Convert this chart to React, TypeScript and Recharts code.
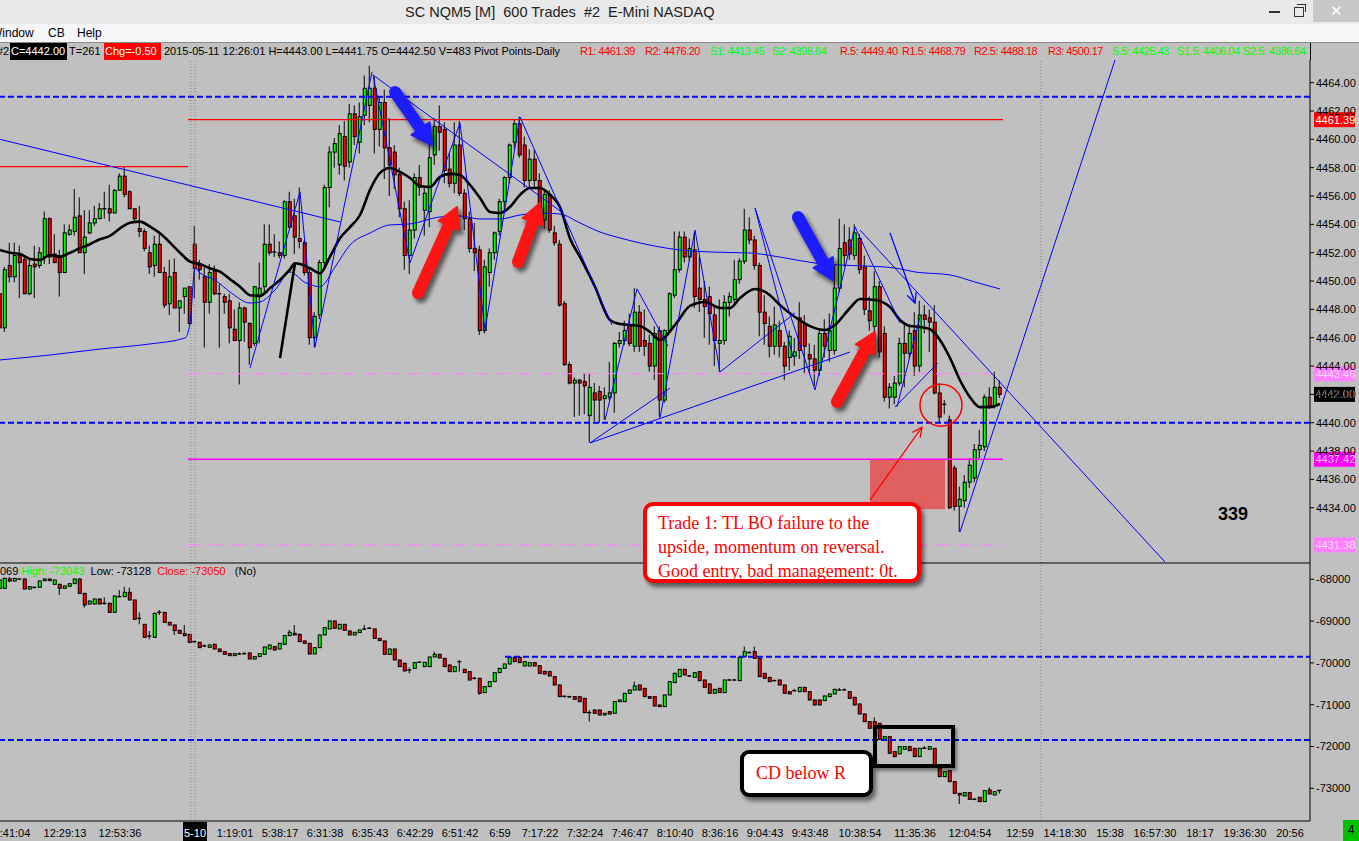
import React from "react";
import {
  ComposedChart,
  Bar,
  Line,
  XAxis,
  YAxis,
  ReferenceLine,
  ReferenceArea,
  ReferenceDot,
} from "recharts";

const FONT = '"Liberation Sans", Arial, sans-serif';
const SERIF = '"Liberation Serif", "Times New Roman", serif';

// 600-trade bars, [open, high, low, close]
const priceBars: [number, number, number, number][] = [
  [4449.1, 4449.6, 4446.4, 4446.7], [4446.7, 4451.0, 4446.4, 4450.8], [4451.1, 4452.7, 4449.9, 4450.3],
  [4450.3, 4452.7, 4449.9, 4451.8], [4451.8, 4452.5, 4448.8, 4451.3], [4451.5, 4451.7, 4449.1, 4449.1],
  [4449.1, 4451.5, 4449.0, 4451.1], [4451.2, 4452.5, 4448.8, 4451.0], [4451.1, 4452.4, 4450.9, 4452.0],
  [4451.7, 4454.9, 4451.2, 4454.4], [4454.4, 4454.5, 4451.2, 4451.7], [4451.9, 4453.3, 4451.3, 4451.3],
  [4451.7, 4452.2, 4448.9, 4450.6], [4450.6, 4454.0, 4450.6, 4453.4], [4453.3, 4454.0, 4453.2, 4453.6],
  [4453.5, 4456.5, 4453.2, 4454.5], [4454.6, 4455.9, 4452.0, 4452.0], [4452.0, 4455.0, 4450.5, 4453.1],
  [4453.4, 4455.0, 4453.3, 4454.1], [4454.1, 4455.3, 4453.9, 4454.4], [4454.4, 4455.5, 4454.4, 4455.1],
  [4455.0, 4456.3, 4454.4, 4455.1], [4455.1, 4456.8, 4454.2, 4454.8], [4454.8, 4456.5, 4454.8, 4456.4],
  [4456.4, 4457.6, 4456.4, 4457.4], [4457.4, 4458.1, 4455.9, 4456.1], [4456.3, 4456.4, 4455.1, 4455.1],
  [4455.1, 4455.1, 4454.2, 4454.4], [4453.7, 4455.3, 4453.1, 4453.5], [4453.5, 4453.7, 4452.1, 4452.3],
  [4452.0, 4452.5, 4450.5, 4451.0], [4451.1, 4453.2, 4450.3, 4452.6], [4452.6, 4453.3, 4450.6, 4450.6],
  [4450.6, 4451.0, 4448.1, 4448.3], [4448.4, 4451.5, 4447.6, 4450.3], [4450.6, 4451.6, 4448.1, 4448.1],
  [4448.1, 4448.6, 4446.4, 4448.6], [4448.9, 4449.5, 4447.7, 4449.5], [4449.6, 4449.6, 4446.9, 4447.0],
  [4452.6, 4453.9, 4448.8, 4450.9], [4451.1, 4451.5, 4450.1, 4450.8], [4450.3, 4451.0, 4445.3, 4448.5],
  [4448.5, 4451.2, 4447.7, 4450.6], [4450.7, 4451.1, 4449.0, 4449.1], [4449.1, 4449.8, 4445.3, 4449.0],
  [4448.9, 4449.1, 4447.7, 4448.5], [4448.6, 4449.1, 4445.6, 4446.7], [4446.6, 4448.0, 4445.8, 4445.8],
  [4445.8, 4448.5, 4442.7, 4448.1], [4448.1, 4448.2, 4445.7, 4447.1], [4447.0, 4447.1, 4444.1, 4445.3],
  [4445.6, 4449.6, 4445.4, 4449.6], [4448.9, 4451.3, 4445.6, 4449.5], [4449.6, 4454.0, 4449.1, 4452.6],
  [4452.6, 4454.0, 4451.8, 4452.0], [4452.0, 4453.3, 4451.7, 4452.05], [4452.0, 4452.8, 4451.6, 4451.8],
  [4451.8, 4455.7, 4451.6, 4455.6], [4455.6, 4456.3, 4453.8, 4453.8], [4454.6, 4455.8, 4451.9, 4453.1],
  [4453.0, 4456.6, 4452.3, 4452.8], [4452.7, 4452.9, 4450.4, 4450.6], [4450.6, 4451.0, 4445.5, 4446.0],
  [4446.0, 4447.8, 4445.3, 4447.5], [4447.6, 4451.5, 4447.3, 4451.3], [4451.3, 4456.8, 4451.0, 4456.6],
  [4456.6, 4459.5, 4455.2, 4459.1], [4459.1, 4460.1, 4458.0, 4459.7], [4458.2, 4461.0, 4457.5, 4460.4],
  [4460.2, 4461.3, 4457.1, 4458.1], [4458.4, 4462.5, 4458.0, 4461.8], [4461.8, 4462.4, 4459.6, 4460.2],
  [4459.8, 4462.6, 4459.0, 4461.6], [4461.7, 4464.5, 4461.0, 4463.6], [4462.4, 4465.2, 4461.2, 4463.6],
  [4463.6, 4464.4, 4459.0, 4460.7], [4460.7, 4463.0, 4459.5, 4462.6], [4462.6, 4463.5, 4457.2, 4459.4],
  [4459.4, 4461.5, 4456.0, 4458.2], [4459.1, 4459.6, 4456.5, 4457.5], [4457.5, 4458.0, 4454.5, 4455.1],
  [4455.1, 4455.6, 4450.8, 4451.8], [4451.8, 4455.7, 4450.5, 4453.6], [4453.6, 4457.6, 4453.0, 4457.3],
  [4457.3, 4458.2, 4456.0, 4456.6], [4455.0, 4456.6, 4453.2, 4456.2], [4454.9, 4460.2, 4453.8, 4458.7],
  [4458.9, 4461.5, 4458.2, 4460.9], [4460.9, 4462.4, 4459.2, 4460.5], [4460.7, 4461.2, 4456.9, 4457.8],
  [4457.9, 4459.0, 4456.6, 4456.9], [4456.9, 4461.2, 4456.2, 4459.6], [4459.6, 4461.3, 4456.0, 4456.2],
  [4456.2, 4456.5, 4453.6, 4454.4], [4454.4, 4454.9, 4452.0, 4452.3], [4452.3, 4454.1, 4450.7, 4452.0],
  [4452.2, 4452.5, 4446.2, 4446.5], [4446.5, 4451.5, 4446.3, 4451.0], [4450.6, 4452.3, 4449.6, 4452.0],
  [4452.0, 4453.5, 4451.5, 4453.4], [4453.5, 4455.8, 4453.2, 4455.6], [4455.6, 4457.4, 4455.0, 4457.3],
  [4457.3, 4459.7, 4456.9, 4459.6], [4459.8, 4461.4, 4459.3, 4461.1], [4461.1, 4461.6, 4458.7, 4458.9],
  [4459.6, 4460.2, 4456.6, 4457.1], [4457.1, 4459.3, 4456.5, 4458.6], [4458.6, 4459.3, 4456.5, 4457.1],
  [4457.1, 4457.6, 4454.0, 4454.3], [4454.3, 4456.5, 4453.7, 4456.1], [4456.1, 4456.4, 4453.4, 4453.6],
  [4453.4, 4453.9, 4452.5, 4452.7], [4452.6, 4452.9, 4448.2, 4448.3], [4448.4, 4448.6, 4444.0, 4444.1],
  [4444.1, 4444.3, 4442.7, 4442.8], [4442.8, 4443.2, 4440.4, 4443.0], [4443.0, 4443.1, 4440.5, 4442.8],
  [4442.9, 4443.5, 4440.6, 4442.6], [4440.5, 4443.5, 4438.6, 4442.5], [4442.1, 4442.8, 4440.1, 4441.6],
  [4442.2, 4442.6, 4440.0, 4441.6], [4441.7, 4442.5, 4440.2, 4441.9], [4441.8, 4444.3, 4441.6, 4442.1],
  [4442.1, 4445.7, 4440.7, 4445.6], [4445.6, 4446.4, 4445.3, 4445.8], [4445.8, 4447.2, 4445.5, 4446.5],
  [4446.9, 4447.7, 4445.4, 4445.6], [4445.4, 4449.5, 4445.0, 4447.8], [4447.8, 4448.3, 4445.0, 4445.4],
  [4445.8, 4448.0, 4444.7, 4445.4], [4445.6, 4446.2, 4443.6, 4444.0], [4444.0, 4446.8, 4443.0, 4446.3],
  [4446.5, 4446.8, 4440.4, 4441.6], [4441.6, 4446.6, 4441.4, 4446.5], [4446.5, 4449.2, 4446.3, 4449.1],
  [4449.0, 4453.5, 4448.8, 4450.8], [4450.8, 4453.5, 4450.6, 4453.1], [4453.1, 4453.5, 4451.3, 4451.7],
  [4451.7, 4453.0, 4451.4, 4452.3], [4452.2, 4453.4, 4448.1, 4448.9], [4449.5, 4451.7, 4447.8, 4448.7],
  [4448.7, 4450.0, 4446.0, 4448.2], [4448.9, 4449.6, 4445.5, 4447.7], [4447.6, 4448.2, 4444.0, 4445.8],
  [4445.6, 4448.7, 4443.6, 4445.8], [4445.8, 4449.0, 4445.5, 4448.5], [4448.5, 4449.2, 4447.5, 4448.9],
  [4448.7, 4451.5, 4448.4, 4450.1], [4450.1, 4451.6, 4449.8, 4451.4], [4451.4, 4455.1, 4451.2, 4453.6],
  [4453.6, 4454.5, 4452.6, 4452.9], [4452.9, 4453.2, 4450.8, 4451.1], [4451.1, 4451.3, 4446.1, 4447.8],
  [4447.8, 4449.0, 4445.5, 4447.0], [4446.8, 4447.5, 4444.6, 4445.4], [4445.4, 4448.2, 4444.8, 4446.9],
  [4446.5, 4447.2, 4444.6, 4445.4], [4445.4, 4445.7, 4443.0, 4444.0], [4444.6, 4446.5, 4443.7, 4446.1],
  [4444.7, 4446.0, 4444.0, 4445.0], [4447.4, 4448.5, 4444.5, 4445.1], [4446.9, 4447.6, 4443.5, 4445.4],
  [4444.8, 4445.6, 4443.5, 4444.5], [4444.5, 4445.5, 4442.6, 4443.7], [4443.7, 4446.6, 4443.3, 4446.3],
  [4446.3, 4447.3, 4444.6, 4445.4], [4445.1, 4447.7, 4444.3, 4446.5], [4445.1, 4451.1, 4444.8, 4449.5],
  [4449.5, 4454.4, 4449.2, 4452.3], [4452.7, 4454.0, 4451.0, 4451.8], [4452.9, 4453.8, 4451.5, 4451.9],
  [4451.8, 4454.0, 4451.5, 4453.4], [4453.0, 4453.3, 4450.5, 4450.8], [4451.0, 4451.8, 4447.6, 4448.0],
  [4447.9, 4448.9, 4446.5, 4447.2], [4446.8, 4450.7, 4446.3, 4449.6], [4449.6, 4450.0, 4444.6, 4445.0],
  [4446.3, 4446.8, 4441.5, 4441.8], [4441.8, 4442.8, 4441.0, 4442.5], [4441.8, 4443.3, 4441.3, 4442.8],
  [4442.8, 4446.0, 4442.6, 4445.6], [4445.6, 4447.0, 4442.5, 4444.9], [4444.9, 4446.9, 4444.5, 4446.3],
  [4446.5, 4447.8, 4443.3, 4444.0], [4444.0, 4448.6, 4443.6, 4447.6], [4447.6, 4448.3, 4446.3, 4447.3],
  [4447.4, 4448.0, 4445.0, 4447.1], [4447.1, 4448.3, 4442.0, 4442.1], [4442.1, 4442.8, 4440.0, 4440.4],
  [4441.2, 4441.6, 4440.6, 4441.3], [4440.2, 4440.5, 4433.9, 4434.0], [4436.8, 4437.0, 4433.8, 4434.1],
  [4434.1, 4435.5, 4432.3, 4434.6], [4434.5, 4436.3, 4434.0, 4435.8], [4435.8, 4437.5, 4435.4, 4437.0],
  [4436.1, 4438.5, 4435.8, 4438.1], [4438.1, 4439.5, 4437.5, 4438.4], [4438.3, 4442.0, 4438.0, 4441.8],
  [4441.8, 4442.5, 4441.0, 4441.2], [4441.2, 4443.6, 4441.0, 4442.5], [4442.5, 4443.0, 4441.75, 4442.0],
];

// cumulative delta bars, [open, high, low, close]
const deltaBars: [number, number, number, number][] = [
  [-68216, -67990, -68240, -68017], [-68216, -67960, -68230, -67977], [-67990, -67950, -68070, -68040],
  [-68040, -67960, -68060, -67980], [-67993, -67985, -68010, -67995], [-67993, -67985, -68240, -68232],
  [-68232, -68170, -68240, -68176], [-68200, -68170, -68215, -68195], [-68192, -68030, -68200, -68041],
  [-68033, -67980, -68040, -67993], [-67993, -67985, -68040, -68033], [-68120, -68010, -68125, -68017],
  [-68120, -68110, -68375, -68216], [-68216, -68150, -68220, -68160], [-68168, -68095, -68172, -68104],
  [-68104, -67985, -68110, -67993], [-67993, -67985, -68340, -68336], [-68336, -68330, -68678, -68615],
  [-68591, -68510, -68600, -68519], [-68591, -68460, -68600, -68471], [-68471, -68460, -68595, -68591],
  [-68575, -68431, -68615, -68580], [-68575, -68560, -68800, -68790], [-68790, -68390, -68795, -68399],
  [-68415, -68256, -68430, -68420], [-68415, -68176, -68420, -68312], [-68312, -68200, -68500, -68495],
  [-68495, -68490, -68960, -68957], [-68933, -68790, -69077, -68935], [-69077, -69070, -69400, -69388],
  [-69356, -69236, -69435, -69360], [-69388, -68800, -69395, -68814], [-68790, -68734, -68854, -68795],
  [-68790, -68780, -69040, -69029], [-69029, -69020, -69100, -69093], [-69093, -69085, -69332, -69228],
  [-69220, -69210, -69300, -69292], [-69300, -69093, -69360, -69348], [-69316, -69300, -69520, -69507],
  [-69491, -69470, -69510, -69495], [-69507, -69500, -69640, -69635], [-69595, -69560, -69620, -69600],
  [-69627, -69560, -69635, -69571], [-69555, -69540, -69670, -69667], [-69667, -69660, -69735, -69730],
  [-69730, -69720, -69800, -69794], [-69778, -69770, -69830, -69826], [-69826, -69770, -69830, -69778],
  [-69786, -69750, -69810, -69790], [-69778, -69740, -69800, -69780], [-69762, -69750, -69910, -69906],
  [-69906, -69845, -69915, -69850], [-69850, -69770, -69855, -69778], [-69794, -69610, -69800, -69619],
  [-69667, -69560, -69670, -69571], [-69611, -69600, -69700, -69691], [-69667, -69520, -69672, -69531],
  [-69555, -69340, -69560, -69348], [-69348, -69212, -69350, -69268], [-69292, -69093, -69335, -69332],
  [-69316, -69300, -69500, -69491], [-69475, -69460, -69540, -69531], [-69531, -69525, -69800, -69786],
  [-69786, -69630, -69790, -69635], [-69635, -69325, -69640, -69332], [-69332, -69150, -69335, -69156],
  [-69188, -68990, -69190, -68997], [-68997, -68990, -69175, -69172], [-69188, -69070, -69190, -69077],
  [-69077, -69070, -69225, -69220], [-69236, -69230, -69335, -69332], [-69332, -69265, -69335, -69268],
  [-69276, -69210, -69280, -69212], [-69188, -69093, -69210, -69190], [-69172, -69140, -69190, -69175],
  [-69188, -69180, -69415, -69412], [-69412, -69405, -69470, -69467], [-69475, -69470, -69795, -69794],
  [-69794, -69660, -69800, -69667], [-69667, -69660, -69935, -69930], [-69930, -69925, -70092, -70089],
  [-70009, -70000, -70200, -70193], [-70169, -70113, -70249, -70170], [-70129, -69990, -70135, -69993],
  [-69985, -69960, -70000, -69990], [-70089, -69980, -70095, -69985], [-70089, -69855, -70095, -69858],
  [-69858, -69730, -69860, -69794], [-69794, -69785, -69885, -69882], [-69890, -69885, -70095, -70089],
  [-70050, -70040, -70220, -70209], [-70209, -70080, -70215, -70090], [-69975, -69930, -70209, -69970],
  [-70153, -70145, -70240, -70233], [-70209, -70200, -70420, -70409], [-70369, -70330, -70400, -70372],
  [-70369, -70360, -70760, -70727], [-70711, -70560, -70720, -70568], [-70568, -70440, -70575, -70448],
  [-70448, -70220, -70455, -70233], [-70233, -70120, -70240, -70130], [-70130, -70020, -70135, -70026],
  [-70026, -69860, -70030, -69866], [-69866, -69855, -69980, -69970], [-69866, -69855, -70000, -69994],
  [-70074, -69960, -70080, -69970], [-70074, -69990, -70080, -69994], [-69994, -69985, -70080, -70074],
  [-70066, -70060, -70255, -70249], [-70201, -70195, -70270, -70265], [-70209, -70200, -70320, -70313],
  [-70329, -70320, -70535, -70528], [-70528, -70520, -70815, -70807], [-70800, -70780, -70830, -70807],
  [-70807, -70790, -70840, -70812], [-70807, -70800, -70875, -70871], [-70807, -70800, -70935, -70927],
  [-70847, -70840, -71200, -71190], [-71190, -71126, -71405, -71195], [-71126, -71120, -71210, -71206],
  [-71126, -71120, -71250, -71246], [-71246, -71195, -71255, -71206], [-71166, -71160, -71225, -71222],
  [-71206, -70920, -71210, -70927], [-70927, -70880, -70930, -70887], [-70927, -70720, -70930, -70727],
  [-70727, -70640, -70730, -70648], [-70648, -70448, -70650, -70552], [-70528, -70520, -70655, -70648],
  [-70608, -70600, -70810, -70807], [-70807, -70800, -70850, -70847], [-70807, -70800, -71040, -71030],
  [-71006, -71000, -71050, -71046], [-71046, -70760, -71050, -70767], [-70767, -70440, -70770, -70448],
  [-70472, -70240, -70475, -70249], [-70329, -70145, -70335, -70153], [-70153, -70145, -70295, -70289],
  [-70313, -70290, -70330, -70315], [-70345, -70230, -70350, -70233], [-70209, -70200, -70435, -70425],
  [-70409, -70400, -70590, -70584], [-70504, -70495, -70735, -70727], [-70727, -70625, -70730, -70632],
  [-70608, -70600, -70720, -70711], [-70711, -70400, -70715, -70409], [-70409, -70380, -70420, -70412],
  [-70409, -70385, -70420, -70410], [-70425, -69860, -70430, -69866], [-69850, -69611, -69855, -69731],
  [-69755, -69720, -69770, -69758], [-69731, -69611, -69900, -69890], [-69890, -69880, -70340, -70329],
  [-70249, -70240, -70375, -70369], [-70345, -70340, -70455, -70448], [-70424, -70400, -70440, -70426],
  [-70409, -70400, -70535, -70528], [-70528, -70520, -70735, -70727], [-70688, -70680, -70745, -70743],
  [-70664, -70620, -70680, -70666], [-70688, -70580, -70695, -70584], [-70584, -70575, -70695, -70688],
  [-70688, -70680, -70895, -70887], [-70887, -70880, -71010, -71006], [-70887, -70880, -71010, -71006],
  [-70903, -70780, -70910, -70791], [-70807, -70735, -70810, -70743], [-70743, -70620, -70745, -70632],
  [-70648, -70600, -70660, -70650], [-70648, -70610, -70660, -70646], [-70688, -70680, -70850, -70847],
  [-70823, -70815, -71010, -71006], [-70982, -70975, -71230, -71222], [-71222, -71215, -71410, -71405],
  [-71405, -71400, -71570, -71565], [-71405, -71302, -71570, -71565], [-71445, -71440, -71840, -71828],
  [-71828, -71760, -71835, -71764], [-71764, -71755, -72170, -72162], [-72123, -72115, -72250, -72242],
  [-72178, -72000, -72185, -72003], [-72067, -71995, -72070, -72003], [-72003, -71995, -72105, -72099],
  [-72043, -72035, -72250, -72242], [-72242, -72035, -72250, -72043], [-72043, -71990, -72060, -72045],
  [-72067, -71995, -72070, -72003], [-72043, -72035, -72450, -72442], [-72521, -72515, -72730, -72721],
  [-72721, -72595, -72725, -72601], [-72577, -72570, -72850, -72840], [-72840, -72835, -73130, -73120],
  [-73120, -73110, -73375, -73160], [-73183, -73090, -73190, -73104], [-73104, -73095, -73270, -73263],
  [-73263, -73240, -73285, -73265], [-73215, -73205, -73325, -73319], [-73319, -73050, -73325, -73056],
  [-73040, -72975, -73140, -73136], [-73160, -73075, -73165, -73080], [-73069, -73043, -73128, -73050],
];

// moving averages, [bar, value]
const fastAverage: [number, number][] = [
  [0, 4452.19], [2, 4452.0], [4, 4451.9], [6, 4451.56], [8, 4451.49], [10, 4451.84], [12, 4451.72],
  [14, 4452.0], [16, 4452.31], [18, 4452.6], [20, 4452.95], [22, 4453.18], [24, 4453.72], [26, 4454.12],
  [28, 4454.19], [30, 4453.84], [32, 4453.37], [34, 4452.71], [36, 4452.0], [38, 4451.37], [40, 4451.2],
  [42, 4450.9], [44, 4450.66], [46, 4450.13], [48, 4449.6], [50, 4449.0], [52, 4448.95], [54, 4449.49],
  [56, 4450.08], [58, 4450.83], [59, 4451.25], [60, 4451.2], [62, 4450.9], [64, 4450.55], [66, 4451.72],
  [68, 4453.02], [70, 4453.8], [72, 4454.66], [74, 4456.43], [76, 4457.63], [78, 4457.98], [80, 4457.7],
  [82, 4457.27], [84, 4456.71], [86, 4456.64], [88, 4457.35], [90, 4457.56], [92, 4457.49], [94, 4456.78],
  [96, 4455.86], [98, 4454.87], [100, 4454.8], [102, 4455.23], [104, 4456.08], [106, 4456.57],
  [108, 4456.57], [110, 4456.08], [112, 4455.23], [114, 4453.0], [116, 4451.7], [119, 4449.6],
  [122, 4447.25], [124, 4446.97], [128, 4446.83], [130, 4446.4], [132, 4445.84], [135, 4446.9],
  [138, 4448.24], [141, 4448.52], [144, 4448.1], [146, 4448.1], [148, 4448.8], [151, 4449.44],
  [154, 4449.0], [156, 4448.3], [159, 4447.46], [162, 4446.82], [165, 4446.54], [167, 4446.9],
  [170, 4448.1], [172, 4448.73], [175, 4448.66], [178, 4448.17], [180, 4447.25], [182, 4446.83],
  [184, 4446.76], [186, 4446.6], [188, 4445.84], [190, 4444.57], [192, 4443.0], [194, 4441.8],
  [196, 4441.1], [198, 4441.1], [200, 4441.33],
];

const slowAverage: [number, number][] = [
  [0, 4444.43], [10, 4444.78], [20, 4445.2], [30, 4445.56], [37, 4445.98], [38, 4447.0], [39, 4450.9],
  [40, 4450.57], [43, 4450.07], [46, 4449.23], [50, 4448.45], [52, 4448.52], [55, 4449.37], [58, 4450.64],
  [61, 4449.9], [64, 4449.6], [67, 4450.99], [70, 4452.54], [74, 4453.39], [78, 4453.96], [82, 4454.03],
  [88, 4454.52], [92, 4454.59], [96, 4454.38], [100, 4454.38], [104, 4454.66], [108, 4454.8],
  [112, 4454.73], [116, 4454.1], [120, 4453.46], [124, 4453.04], [128, 4452.69], [132, 4452.4],
  [136, 4452.19], [142, 4452.05], [150, 4451.98], [157, 4451.63], [163, 4451.27], [168, 4451.13],
  [173, 4451.06], [179, 4450.92], [183, 4450.64], [190, 4450.43], [195, 4449.93], [200, 4449.44],
];

// hand drawn trend lines, [[bar, price], [bar, price]]
const trendLines: [number, number][][] = [
  [[0, 4460.0], [68, 4454.17]], [[50, 4443.87], [60, 4456.29]], [[60, 4456.29], [63, 4445.35]],
  [[63, 4445.35], [74.4, 4464.76]], [[74.6, 4464.54], [82, 4451.28]], [[82, 4451.28], [92, 4461.16]],
  [[92, 4461.16], [97, 4446.55]], [[97, 4446.55], [104, 4461.58]], [[104, 4461.58], [122.4, 4446.9]],
  [[74.6, 4464.54], [112.6, 4454.8]], [[118, 4438.57], [134, 4442.45]], [[118, 4438.57], [170, 4444.99]],
  [[121, 4440.2], [127.4, 4449.45]], [[127.4, 4449.45], [133.6, 4445.4]], [[132, 4440.34], [139, 4453.6]],
  [[139, 4453.6], [144, 4443.58]], [[144, 4443.58], [159, 4447.75]], [[151, 4455.16], [163, 4442.31]],
  [[151, 4455.16], [158.6, 4444.64]], [[163, 4442.31], [171, 4453.82]], [[171, 4453.82], [180, 4447.04]],
  [[179.4, 4441.11], [184, 4447.47]], [[179, 4441.11], [187.6, 4444.22]], [[172, 4453.6], [233, 4430.17]],
  [[192, 4432.29], [223, 4465.6]],
];

const arrows = [
  { from: [79, 4463.34], to: [86.4, 4459.6], color: "#1c1cff", bold: true },
  { from: [83.6, 4449.15], to: [91.4, 4455.22], color: "#ff1414", bold: true },
  { from: [103.6, 4451.34], to: [108, 4455.5], color: "#ff1414", bold: true },
  { from: [159.6, 4454.52], to: [166.6, 4450.07], color: "#1c1cff", bold: true },
  { from: [167.4, 4441.47], to: [175, 4446.41], color: "#ff1414", bold: true },
  { from: [178, 4453.4], to: [183, 4448.45], color: "#0000ff", bold: false },
  { from: [174, 4434.54], to: [184.4, 4439.69], color: "#ff0000", bold: false },
];

const priceTicks = [4434, 4436, 4438, 4440, 4442, 4444, 4446, 4448, 4450, 4452, 4454, 4456, 4458, 4460, 4462, 4464];
const deltaTicks = [-73000, -72000, -71000, -70000, -69000, -68000];

const timeTicks: [number, string][] = [
  [3, ":41:04"], [13, "12:29:13"], [24, "12:53:36"], [39, "5-10"], [47, "1:19:01"], [56, "5:38:17"],
  [65, "6:31:38"], [74, "6:35:43"], [83, "6:42:29"], [92, "6:51:42"], [100, "6:59"], [108, "7:17:22"],
  [117, "7:32:24"], [126, "7:46:47"], [135, "8:10:40"], [144, "8:36:16"], [153, "9:04:43"],
  [162, "9:43:48"], [172, "10:38:54"], [183, "11:35:36"], [194, "12:04:54"], [204, "12:59"],
  [213, "14:18:30"], [222, "15:38"], [231, "16:57:30"], [240, "18:17"], [249, "19:36:30"], [258, "20:56"],
];

// pivot study read-out in the header, [text, colour, left px]
const pivotLabels: [string, string, number][] = [
  ["R1: 4461.39", "#ff0000", 580], ["R2: 4476.20", "#ff0000", 645], ["S1: 4413.45", "#00ff00", 710],
  ["S2: 4398.64", "#00ff00", 772], ["R.5: 4449.40", "#ff0000", 840], ["R1.5: 4468.79", "#ff0000", 902],
  ["R2.5: 4488.18", "#ff0000", 974], ["R3: 4500.17", "#ff0000", 1048], ["S.5: 4425.43", "#00ff00", 1112],
  ["S1.5: 4406.04", "#00ff00", 1177], ["S2.5: 4386.64", "#00ff00", 1243],
];

const priceTags = [
  { value: 4461.39, bg: "#ff0000", fg: "#ffffff" },
  { value: 4443.46, bg: "#ff80ff", fg: "#ffd6ff" },
  { value: 4442.0, bg: "#000000", fg: "#ffffff" },
  { value: 4437.42, bg: "#ff00ff", fg: "#ffc4ff" },
  { value: 4431.38, bg: "#ff80ff", fg: "#ffd6ff" },
];

const X_DOMAIN: [number, number] = [0, 262];

type Row = { k: number; o: number; h: number; l: number; c: number; fast: number | null; slow: number | null };

const priceRows: Row[] = priceBars.map(([o, h, l, c], k) => ({ k, o, h, l, c, fast: null, slow: null }));
fastAverage.forEach(([k, v]) => (priceRows[k].fast = v));
slowAverage.forEach(([k, v]) => (priceRows[k].slow = v));
const deltaRows = deltaBars.map(([o, h, l, c], k) => ({ k, o, h, l, c }));
const timeLabel: Record<number, string> = Object.fromEntries(timeTicks);

function Candle(props: any) {
  const { x, y, width, height, payload } = props;
  if (!payload || y == null || height == null) return null;
  const { o, h, l, c } = payload;
  const cx = x + width / 2;
  const span = h - l || 1;
  const py = (v: number) => y + ((h - v) / span) * height;
  const top = py(Math.max(o, c));
  const bottom = py(Math.min(o, c));
  const up = c >= o;
  return (
    <g>
      <line x1={cx - 0.5} x2={cx - 0.5} y1={y} y2={y + height} stroke="#000" strokeWidth={1} />
      {bottom - top < 1.5 ? (
        <line x1={cx - 2.5} x2={cx + 1.5} y1={top} y2={top} stroke="#000" strokeWidth={1.4} />
      ) : (
        <rect x={cx - 1.5} y={top} width={3} height={bottom - top} fill={up ? "#00ff00" : "#ff0000"} stroke="#000" strokeWidth={1} />
      )}
    </g>
  );
}

function BoldArrow(props: any) {
  const { x1, y1, x2, y2, color } = props;
  const dx = x2 - x1;
  const dy = y2 - y1;
  const len = Math.hypot(dx, dy) || 1;
  const ux = dx / len, uy = dy / len, nx = -uy, ny = ux;
  const H = 20, W = 11, w = 5;
  const bx = x2 - ux * H, by = y2 - uy * H;
  const pts = [
    [x1 + nx * w, y1 + ny * w], [bx + nx * w, by + ny * w], [bx + nx * W, by + ny * W], [x2, y2],
    [bx - nx * W, by - ny * W], [bx - nx * w, by - ny * w], [x1 - nx * w, y1 - ny * w],
  ];
  const d = "M" + pts.map((p) => p.join(",")).join("L") + "Z";
  return (
    <g>
      <g transform="translate(3,4)" opacity={0.55} style={{ filter: "blur(2px)" }}>
        <path d={d} fill="#000" stroke="#000" strokeWidth={3} strokeLinejoin="round" />
        <circle cx={x1} cy={y1} r={w + 1} fill="#000" />
      </g>
      <path d={d} fill={color} stroke={color} strokeWidth={2} strokeLinejoin="round" />
      <circle cx={x1} cy={y1} r={w + 1} fill={color} />
    </g>
  );
}

function ThinArrow(props: any) {
  const { x1, y1, x2, y2, color } = props;
  const a = Math.atan2(y2 - y1, x2 - x1);
  const L = 11, s = 0.45;
  const p1 = [x2 - L * Math.cos(a - s), y2 - L * Math.sin(a - s)];
  const p2 = [x2 - L * Math.cos(a + s), y2 - L * Math.sin(a + s)];
  return (
    <g>
      <line x1={x1} y1={y1} x2={x2} y2={y2} stroke={color} strokeWidth={1.3} />
      <polyline points={`${p1[0]},${p1[1]} ${x2},${y2} ${p2[0]},${p2[1]}`} fill="none" stroke={color} strokeWidth={1.3} />
    </g>
  );
}

function PriceTag(props: any) {
  const { viewBox, bg, fg, text } = props;
  if (!viewBox) return null;
  const x = viewBox.x + viewBox.width + 4;
  const y = viewBox.y;
  return (
    <g>
      <rect x={x} y={y - 7.5} width={41} height={15} fill={bg} />
      <text x={x + 1.5} y={y + 4} fontSize={11} fontFamily={FONT} fill={fg}>
        {text}
      </text>
    </g>
  );
}

function TimeTick(props: any) {
  const { x, y, payload } = props;
  const label = timeLabel[payload.value];
  if (label === "5-10") {
    return (
      <g>
        <rect x={x - 12} y={y + 1} width={24} height={19} fill="#000" />
        <text x={x} y={y + 16} textAnchor="middle" fontSize={11} fontFamily={FONT} fill="#fff">
          {label}
        </text>
      </g>
    );
  }
  return (
    <text x={x} y={y + 16} textAnchor="middle" fontSize={11} fontFamily={FONT} fill="#000">
      {label}
    </text>
  );
}

const axisTick = { fill: "#000", fontSize: 11, fontFamily: FONT };
const dotted = { stroke: "#808080", strokeDasharray: "1 2", strokeWidth: 1 };

function PriceChart() {
  return (
    <ComposedChart width={1359} height={522} data={priceRows} margin={{ top: 0, right: 0, bottom: 0, left: 0 }}>
      <XAxis dataKey="k" type="number" domain={X_DOMAIN} allowDataOverflow tick={false} tickLine={false} height={1} axisLine={{ stroke: "#000" }} />
      <YAxis
        orientation="right"
        width={49}
        domain={[4430.1, 4466.87]}
        allowDataOverflow
        ticks={priceTicks}
        interval={0}
        tickFormatter={(v: number) => v.toFixed(2)}
        tick={axisTick}
        tickSize={4}
        tickLine={{ stroke: "#000" }}
        axisLine={{ stroke: "#000" }}
      />
      <ReferenceLine x={38.15} {...dotted} />
      <ReferenceLine x={39} {...dotted} />
      <ReferenceLine x={208.2} {...dotted} />
      <ReferenceArea x1={174} x2={189} y1={4433.9} y2={4437.42} fill="#e06060" fillOpacity={1} stroke="none" />
      <ReferenceLine y={4463} stroke="#0000ff" strokeWidth={2} strokeDasharray="6 3" />
      <ReferenceLine y={4440} stroke="#0000ff" strokeWidth={2} strokeDasharray="6 3" />
      <ReferenceLine segment={[{ x: 0, y: 4458.07 }, { x: 37.6, y: 4458.07 }]} stroke="#ff0000" strokeWidth={1.3} />
      <ReferenceLine segment={[{ x: 37.6, y: 4461.39 }, { x: 200.6, y: 4461.39 }]} stroke="#ff0000" strokeWidth={1.3} />
      <ReferenceLine segment={[{ x: 37.6, y: 4437.42 }, { x: 200.6, y: 4437.42 }]} stroke="#ff00ff" strokeWidth={1.5} />
      <ReferenceLine segment={[{ x: 37.6, y: 4443.46 }, { x: 200.6, y: 4443.46 }]} stroke="#ff80ff" strokeWidth={1} strokeDasharray="14 8" />
      <ReferenceLine segment={[{ x: 37.6, y: 4431.38 }, { x: 200.6, y: 4431.38 }]} stroke="#ff80ff" strokeWidth={1} strokeDasharray="14 8" />
      <Bar dataKey={(d: Row) => [d.l, d.h]} barSize={5} shape={(p: any) => <Candle {...p} />} isAnimationActive={false} />
      <Line dataKey="slow" type="monotone" stroke="#0000ff" strokeWidth={1} dot={false} activeDot={false} connectNulls isAnimationActive={false} />
      <Line dataKey="fast" type="monotone" stroke="#000" strokeWidth={2.6} dot={false} activeDot={false} connectNulls isAnimationActive={false} />
      {trendLines.map(([a, b], i) => (
        <ReferenceLine key={"t" + i} segment={[{ x: a[0], y: a[1] }, { x: b[0], y: b[1] }]} stroke="#0000ff" strokeWidth={1} ifOverflow="hidden" />
      ))}
      <ReferenceLine segment={[{ x: 56, y: 4444.56 }, { x: 59, y: 4451.27 }]} stroke="#000" strokeWidth={2.6} />
      <ReferenceDot x={188.2} y={4441.24} r={21} fill="none" stroke="#ff0000" strokeWidth={1.5} />
      {arrows.map((a, i) => (
        <ReferenceLine
          key={"a" + i}
          segment={[{ x: a.from[0], y: a.from[1] }, { x: a.to[0], y: a.to[1] }]}
          shape={(p: any) => (a.bold ? <BoldArrow {...p} color={a.color} /> : <ThinArrow {...p} color={a.color} />)}
        />
      ))}
      {priceTags.map((t) => (
        <ReferenceLine key={"p" + t.value} y={t.value} stroke="none" label={<PriceTag bg={t.bg} fg={t.fg} text={t.value.toFixed(2)} />} />
      ))}
    </ComposedChart>
  );
}

function DeltaChart() {
  return (
    <ComposedChart width={1359} height={278} data={deltaRows} margin={{ top: 0, right: 0, bottom: 0, left: 0 }}>
      <XAxis
        dataKey="k"
        type="number"
        domain={X_DOMAIN}
        allowDataOverflow
        ticks={timeTicks.map((t) => t[0])}
        interval={0}
        height={20}
        tickSize={0}
        tickMargin={0}
        tickLine={false}
        axisLine={{ stroke: "#000" }}
        tick={(p: any) => <TimeTick {...p} />}
      />
      <YAxis
        orientation="right"
        width={49}
        domain={[-73782, -67610]}
        allowDataOverflow
        ticks={deltaTicks}
        interval={0}
        tickFormatter={(v: number) => String(v)}
        tick={axisTick}
        tickSize={4}
        tickLine={{ stroke: "#000" }}
        axisLine={{ stroke: "#000" }}
      />
      <ReferenceLine x={38.15} {...dotted} />
      <ReferenceLine x={39} {...dotted} />
      <ReferenceLine x={208.2} {...dotted} />
      <ReferenceLine segment={[{ x: 101, y: -69851 }, { x: 262, y: -69851 }]} stroke="#0000ff" strokeWidth={2} strokeDasharray="6 3" />
      <ReferenceLine y={-71843} stroke="#0000ff" strokeWidth={2} strokeDasharray="6 3" />
      <Bar dataKey={(d: any) => [d.l, d.h]} barSize={5} shape={(p: any) => <Candle {...p} />} isAnimationActive={false} />
    </ComposedChart>
  );
}

const abs = (s: React.CSSProperties): React.CSSProperties => ({ position: "absolute", ...s });

export default function App() {
  return (
    <div style={abs({ left: 0, top: 0, width: 1359, height: 841, background: "#c0c0c0", overflow: "hidden", fontFamily: FONT })}>
      {/* window chrome */}
      <div style={abs({ left: 0, top: 0, width: 1359, height: 24, background: "#e9e9e9" })}>
        <div style={abs({ left: 405, top: 4, fontSize: 14.5, color: "#222", whiteSpace: "pre" })}>
          SC NQM5 [M]  600 Trades  #2  E-Mini NASDAQ
        </div>
        <div style={abs({ left: 1269, top: 11, width: 11, height: 2, background: "#333" })} />
        <div style={abs({ left: 1297, top: 4, width: 8, height: 7, border: "1px solid #333", borderBottom: "none", borderLeft: "none" })} />
        <div style={abs({ left: 1294, top: 7, width: 8, height: 8, border: "1px solid #333" })} />
        <div style={abs({ left: 1313, top: 0, width: 46, height: 22, background: "#c7c7c7", color: "#fff", fontSize: 15, textAlign: "center", lineHeight: "22px" })}>
          ✕
        </div>
      </div>
      <div style={abs({ left: 0, top: 24, width: 1359, height: 18, background: "#f5f6f7", fontSize: 12, color: "#000" })}>
        <span style={abs({ left: -9, top: 2 })}>Window</span>
        <span style={abs({ left: 48, top: 2 })}>CB</span>
        <span style={abs({ left: 77, top: 2 })}>Help</span>
      </div>

      <div style={abs({ left: 0, top: 42 })}>
        <PriceChart />
      </div>
      <div style={abs({ left: 0, top: 563 })}>
        <DeltaChart />
      </div>

      {/* study header rows */}
      <div style={abs({ left: 0, top: 42, width: 1359, height: 1, background: "#8a8a8a" })} />
      <div style={abs({ left: 0, top: 43, width: 1359, height: 17, background: "#c0c0c0" })}>
        <div style={abs({ left: 0, top: 0, width: 1310, height: 17, overflow: "hidden", borderRight: "1px solid #000", fontSize: 11, lineHeight: "17px", whiteSpace: "pre", color: "#000" })}>
          <span style={abs({ left: -3 })}>#2</span>
          <span style={abs({ left: 10, width: 56, height: 17, background: "#000", color: "#fff", paddingLeft: 1 })}>C=4442.00</span>
          <span style={abs({ left: 69 })}>T=261</span>
          <span style={abs({ left: 104, width: 56, height: 17, background: "#ff0000", color: "#fff", paddingLeft: 1 })}>Chg=-0.50</span>
          <span style={abs({ left: 164 })}>2015-05-11 12:26:01 H=4443.00 L=4441.75 O=4442.50 V=483 Pivot Points-Daily</span>
          {pivotLabels.map(([text, color, left]) => (
            <span key={text} style={abs({ left, color, letterSpacing: -0.45 })}>
              {text}
            </span>
          ))}
        </div>
      </div>
      <div style={abs({ left: 0, top: 564, fontSize: 11, lineHeight: "14px", whiteSpace: "pre", color: "#000" })}>
        <span>069 </span>
        <span style={{ color: "#00ff00" }}>High: -73043</span>
        <span>  Low: -73128  </span>
        <span style={{ color: "#ff0000" }}>Close: -73050</span>
        <span>   (No)</span>
      </div>

      {/* notes */}
      <div
        style={abs({
          left: 643, top: 502, width: 259, height: 67, background: "#fff", border: "4px solid #ff0000", borderRadius: 10,
          boxShadow: "3px 4px 4px rgba(0,0,0,0.55)", fontFamily: SERIF, fontSize: 18, lineHeight: "24px", color: "#ff0000",
          paddingLeft: 11, paddingTop: 5, paddingBottom: 1, boxSizing: "content-box", whiteSpace: "pre",
        })}
      >
        {"Trade 1: TL BO failure to the\nupside, momentum on reversal.\nGood entry, bad management: 0t."}
      </div>
      <div style={abs({ left: 1218, top: 504, fontSize: 18, fontWeight: "bold", color: "#000" })}>339</div>
      <div
        style={abs({
          left: 873, top: 725, width: 74, height: 35, border: "4px solid #000", boxShadow: "2px 3px 3px rgba(0,0,0,0.4)",
        })}
      />
      <div
        style={abs({
          left: 740, top: 750, width: 113, height: 39, background: "#fff", border: "4px solid #000", borderRadius: 9,
          boxShadow: "3px 4px 4px rgba(0,0,0,0.5)", fontFamily: SERIF, fontSize: 18, lineHeight: "39px", color: "#ff0000",
          paddingLeft: 12, boxSizing: "content-box",
        })}
      >
        CD below R
      </div>
      <div style={abs({ left: 1343, top: 820, width: 16, height: 21, background: "#00c000", fontSize: 12, textAlign: "center", lineHeight: "21px" })}>4</div>
    </div>
  );
}
